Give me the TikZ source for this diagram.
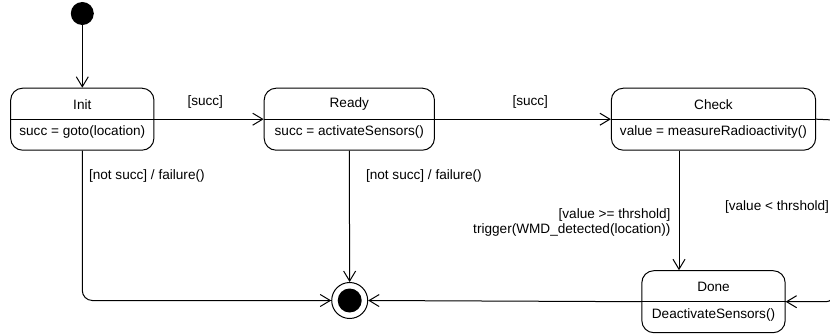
\documentclass[tikz,border=0pt]{standalone}
\usepackage{fontspec}
\setmainfont{Liberation Sans}
\usetikzlibrary{arrows.meta}
\begin{document}
\begin{tikzpicture}[x=1pt,y=-1pt,
  line width=1pt,
  every node/.style={font=\fontsize{13.6}{15}\selectfont, inner sep=0pt},
  statebox/.style={draw, rectangle, rounded corners=12pt, minimum height=62pt},
  initdot/.style={circle, fill=black, minimum size=23pt},
  finalring/.style={circle, draw, fill=white, minimum size=36pt},
  finaldot/.style={circle, fill=black, minimum size=24pt},
  trans/.style={-{Straight Barb[length=10pt,width=12pt,line width=1pt]}},
  guard/.style={anchor=base west}]
\useasboundingbox (0,0) rectangle (830,334);

% states
\node[initdot] (start) at (82.3,13.5) {};
\node[statebox, minimum width=143.3pt] (init)  at (82.3,119.2) {};
\node[statebox, minimum width=170.3pt] (ready) at (349.3,119.2) {};
\node[statebox, minimum width=204.3pt] (check) at (713.5,119.2) {};
\node[statebox, minimum width=143.3pt] (done)  at (713.5,301.7) {};
\node[finalring] (final) at (349.7,300.5) {};
\node[finaldot] (finalin) at (final.center) {};

% compartment lines
\draw (init.west)  -- (init.east);
\draw (ready.west) -- (ready.east);
\draw (check.west) -- (check.east);
\draw (done.west)  -- (done.east);

% state texts
\node at ([yshift=15pt]init.center)  {Init};
\node at ([yshift=-13pt]init.center) {succ = goto(location)};
\node at ([yshift=15pt]ready.center)  {Ready};
\node at ([yshift=-13pt]ready.center) {succ = activateSensors()};
\node at ([yshift=15pt]check.center)  {Check};
\node at ([yshift=-13pt]check.center) {value = measureRadioactivity()};
\node at ([yshift=15pt]done.center)  {Done};
\node at ([yshift=-13pt]done.center) {DeactivateSensors()};

% transitions
\draw[trans] (start) -- (init);
\draw[trans] (init.east) -- (ready.west);
\draw[trans] (ready.east) -- (check.west);
\draw[trans] (ready.south) -- (final);
\draw[trans, rounded corners=10pt] (init.south) |- (final.west);
\draw[trans] ([xshift=-34.5pt]check.south) -- ([xshift=-34.5pt]done.north);
\draw[trans] (done.west) -- (final.east);
\coordinate (loopr) at (834,120);
\draw[trans] (check.east) -- (loopr) [rounded corners=8pt] -- (loopr |- done.east) -- (done.east);

% guards
\node[guard] at (187,106) {[succ]};
\node[guard] at (512,106) {[succ]};
\node[guard] at (88.5,179) {[not succ] / failure()};
\node[guard] at (365.5,179) {[not succ] / failure()};
\node[anchor=base east] at (671,218) {[value >= thrshold]};
\node[anchor=base east] at (671,233) {trigger(WMD\_detected(location))};
\node[anchor=base east] at (829.5,210) {[value < thrshold]};
\end{tikzpicture}
\end{document}
